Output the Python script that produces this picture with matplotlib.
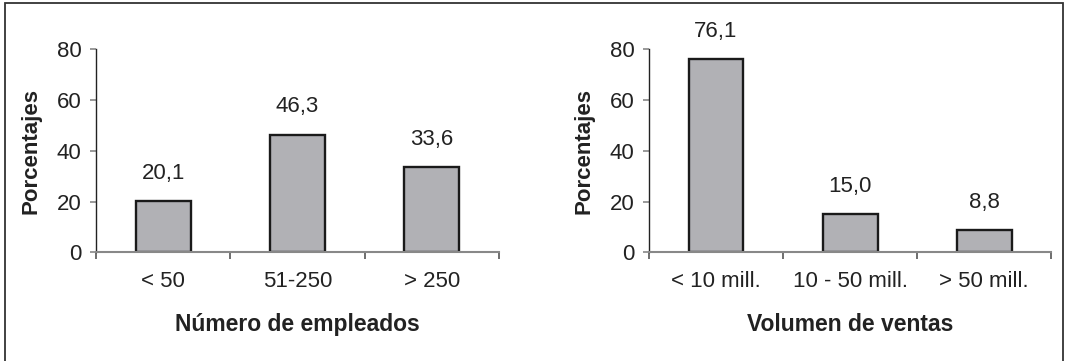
import matplotlib.pyplot as plt
from matplotlib.patches import Rectangle

plt.rcParams['font.family'] = ['Liberation Sans', 'DejaVu Sans']

empleados = ["< 50", "51-250", "> 250"]
empleados_pct = [20.1, 46.3, 33.6]

ventas = ["< 10 mill.", "10 - 50 mill.", "> 50 mill."]
ventas_pct = [76.1, 15.0, 8.8]

fig = plt.figure(figsize=(10.65, 3.61), dpi=100)

# frame round the whole figure
fig.patches.append(Rectangle((0.0047, -0.02), 0.9934, 1.0117, transform=fig.transFigure,
                             fill=False, edgecolor="#333333", linewidth=1.3))


def panel(ax, cats, vals, xlabel):
    x = list(range(len(cats)))
    ax.bar(x, vals, width=0.41, color="#b1b1b5", edgecolor="#1a1a1a", linewidth=1.7)
    for xi, v in zip(x, vals):
        ax.annotate(f"{v:.1f}".replace(".", ","), (xi, v), xytext=(0, 20),
                    textcoords="offset points", ha="center", va="center",
                    fontsize=16, color="#222222")
    ax.set_xlim(-0.5, len(cats) - 0.5)
    ax.set_ylim(0, 80)
    ax.set_yticks([0, 20, 40, 60, 80])
    ax.set_xticks(x)
    ax.set_xticklabels(cats)
    ax.set_xticks([i - 0.5 for i in range(len(cats) + 1)], minor=True)
    ax.tick_params(axis="x", which="major", length=0, pad=13, labelsize=16, labelcolor="#222222")
    ax.tick_params(axis="x", which="minor", length=5, width=1.2, color="#555555")
    ax.tick_params(axis="y", length=4.5, width=1.2, color="#888888", pad=6,
                   labelsize=16, labelcolor="#222222")
    for s in ["top", "right"]:
        ax.spines[s].set_visible(False)
    ax.spines["left"].set_color("#222222")
    ax.spines["left"].set_linewidth(1.0)
    ax.spines["bottom"].set_color("#888888")
    ax.spines["bottom"].set_linewidth(1.5)
    ax.set_xlabel(xlabel, fontsize=16.5, fontweight="bold", va="center", color="#222222")
    ax.xaxis.set_label_coords(0.5, -0.356)
    ax.set_ylabel("Porcentajes", fontsize=16, fontweight="bold", va="center", color="#222222")
    ax.yaxis.set_label_coords(-0.162, 0.5)


ax1 = fig.add_axes([0.0901, 0.3006, 0.3784, 0.5637])
panel(ax1, empleados, empleados_pct, "Número de empleados")

ax2 = fig.add_axes([0.6094, 0.3006, 0.3775, 0.5637])
panel(ax2, ventas, ventas_pct, "Volumen de ventas")

fig.savefig("out.png", dpi=100)
